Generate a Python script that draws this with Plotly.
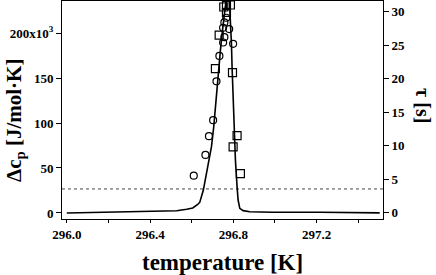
import plotly.graph_objects as go

# Heat capacity curve (left axis), J/mol·K
curve_T = [296.000, 296.060, 296.070, 296.200, 296.447, 296.528, 296.576, 296.605,
           296.629, 296.639, 296.656, 296.679, 296.695, 296.706, 296.716, 296.727,
           296.738, 296.748, 296.757, 296.764, 296.773, 296.783, 296.788, 296.791,
           296.794, 296.799, 296.804, 296.810, 296.818, 296.823, 296.831, 296.847,
           296.879, 296.989, 297.215, 297.369, 297.374, 297.503]
curve_cp = [0, 200, 900, 1000, 1900, 2500, 4200, 5500,
            9500, 12000, 25500, 51500, 73700, 96000, 125500, 155000,
            181000, 203000, 221000, 234000, 275000, 234000, 214000, 188000,
            162000, 125500, 88500, 59000, 29000, 14400, 5200, 2600,
            1400, 800, 800, 800, 100, 100]

# Relaxation times (right axis), s
circle_T = [296.610, 296.666, 296.683, 296.703, 296.719, 296.733, 296.751, 296.757,
            296.751, 296.757, 296.766, 296.780, 296.799]
circle_tau = [5.5, 8.6, 11.4, 13.8, 19.6, 23.4, 25.4, 26.2,
              27.6, 28.4, 29.1, 27.4, 25.2]
square_T = [296.714, 296.732, 296.754, 296.767, 296.767, 296.786, 296.796, 296.818,
            296.799, 296.834]
square_tau = [21.5, 26.5, 30.7, 30.9, 29.9, 31.0, 20.9, 11.5, 9.8, 5.8]

threshold_cp = 26700
x_range = [295.977, 297.519]

x_tickvals = [296.0, 296.4, 296.8, 297.2]
x_ticktext = ["296.0", "296.4", "296.8", "297.2"]
y_tickvals = [0, 50000, 100000, 150000, 200000]
y_ticktext = ["0", "50", "100", "150", "200x10<sup>3</sup>"]
y2_tickvals = [0, 5, 10, 15, 20, 25, 30]

FONT = "Liberation Serif"

fig = go.Figure()
fig.add_trace(go.Scatter(x=x_range, y=[threshold_cp, threshold_cp], mode="lines",
                         line=dict(color="#444", width=1, dash="dot"),
                         showlegend=False, hoverinfo="skip"))
fig.add_trace(go.Scatter(x=curve_T, y=curve_cp, mode="lines",
                         line=dict(color="black", width=1.6), showlegend=False))
fig.add_trace(go.Scatter(x=circle_T, y=circle_tau, mode="markers", yaxis="y2",
                         marker=dict(symbol="circle-open", size=7, color="black",
                                     line=dict(width=1.2)), showlegend=False))
fig.add_trace(go.Scatter(x=square_T, y=square_tau, mode="markers", yaxis="y2",
                         marker=dict(symbol="square-open", size=8, color="black",
                                     line=dict(width=1.2)), showlegend=False))

tickfont = dict(family=FONT, size=13, color="black", weight="bold")
fig.update_layout(
    width=436, height=275,
    margin=dict(l=62, r=53, t=1, b=56),
    paper_bgcolor="white", plot_bgcolor="white",
    xaxis=dict(range=x_range, showgrid=False, zeroline=False,
               showline=True, linecolor="black", linewidth=1, mirror=True,
               ticks="outside", ticklen=3, tickcolor="black",
               tickvals=x_tickvals, ticktext=x_ticktext, tickfont=tickfont,
               minor=dict(ticks="outside", dtick=0.2, tick0=296.0, ticklen=3,
                          tickcolor="black")),
    yaxis=dict(range=[-6700, 235600], showgrid=False, zeroline=False,
               showline=True, linecolor="black", linewidth=1,
               ticks="outside", ticklen=5, tickcolor="black",
               tickvals=y_tickvals, ticktext=y_ticktext, tickfont=tickfont),
    yaxis2=dict(range=[-0.97, 31.6], overlaying="y", side="right",
                showgrid=False, zeroline=False,
                showline=True, linecolor="black", linewidth=1,
                ticks="outside", ticklen=5, tickcolor="black",
                tickvals=y2_tickvals, tickfont=tickfont),
    annotations=[
        dict(text="Δc<sub>p</sub> [J/mol·K]", xref="paper", yref="paper",
             x=0, y=0.5, xanchor="center", yanchor="middle", xshift=-47, yshift=-11,
             textangle=-90, showarrow=False,
             font=dict(family=FONT, size=21, color="black", weight="bold")),
        dict(text="temperature [K]", xref="paper", yref="paper",
             x=0.5, y=0, xanchor="center", yanchor="middle", yshift=-43,
             showarrow=False,
             font=dict(family=FONT, size=23, color="black", weight="bold")),
        dict(text="τ [s]", xref="paper", yref="paper",
             x=1, y=0.5, xanchor="center", yanchor="middle", xshift=40, yshift=5,
             textangle=90, showarrow=False,
             font=dict(family=FONT, size=20, color="black", weight="bold")),
    ],
)

fig.write_html("out.html", config={"displayModeBar": False},
               post_script="document.body.style.margin='0';document.body.style.overflow='hidden';")
